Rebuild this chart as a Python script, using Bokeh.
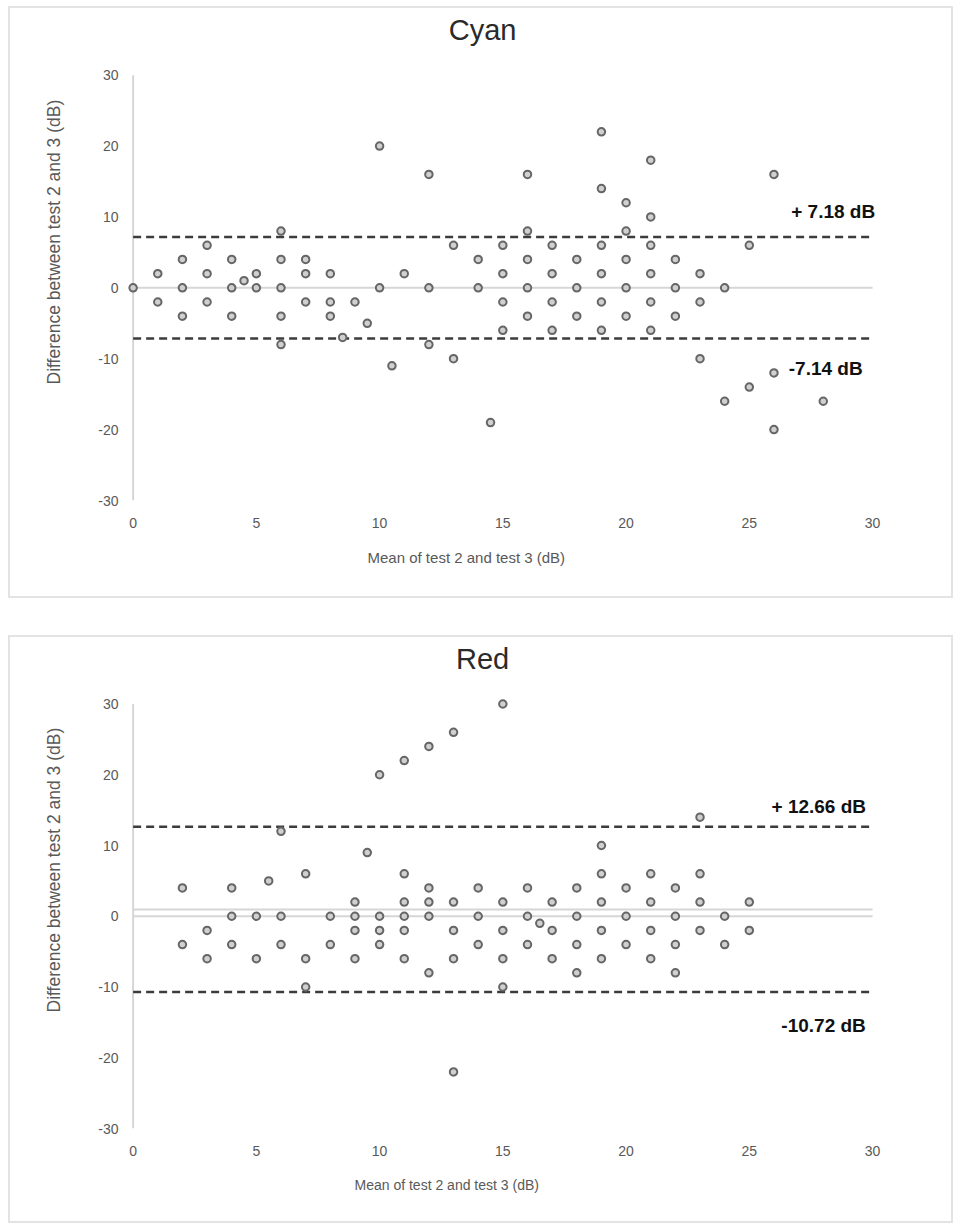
from bokeh.plotting import figure
from bokeh.models import Range1d, Label, FixedTicker, Title
from bokeh.layouts import column
from bokeh.embed import file_html
from bokeh.resources import INLINE

# ---------------- data ----------------
cyan_mean = [0, 1, 1, 2, 2, 2, 3, 3, 3, 4, 4, 4, 4.5, 5, 5,
             6, 6, 6, 6, 6, 7, 7, 7, 8, 8, 8, 8.5, 9, 9.5, 10, 10,
             10.5, 11, 12, 12, 12, 13, 13, 14, 14, 14.5,
             15, 15, 15, 15, 16, 16, 16, 16, 16, 17, 17, 17, 17,
             18, 18, 18, 19, 19, 19, 19, 19, 19, 20, 20, 20, 20, 20,
             21, 21, 21, 21, 21, 21, 22, 22, 22, 23, 23, 23, 24, 24,
             25, 25, 26, 26, 26, 28]
cyan_diff = [0, 2, -2, 4, 0, -4, 6, 2, -2, 4, 0, -4, 1, 2, 0,
             8, 4, 0, -4, -8, 4, 2, -2, 2, -2, -4, -7, -2, -5, 20, 0,
             -11, 2, 16, 0, -8, 6, -10, 4, 0, -19,
             6, 2, -2, -6, 16, 8, 4, 0, -4, 6, 2, -2, -6,
             4, 0, -4, 22, 14, 6, 2, -2, -6, 12, 8, 4, 0, -4,
             18, 10, 6, 2, -2, -6, 4, 0, -4, 2, -2, -10, 0, -16,
             6, -14, 16, -12, -20, -16]
cyan_upper = 7.18
cyan_lower = -7.14

red_mean = [2, 2, 3, 3, 4, 4, 4, 5, 5, 5.5, 6, 6, 6, 7, 7, 7, 8, 8,
            9, 9, 9, 9, 9.5, 10, 10, 10, 10, 11, 11, 11, 11, 11, 11,
            12, 12, 12, 12, 12, 13, 13, 13, 13, 13, 14, 14, 14,
            15, 15, 15, 15, 15, 16, 16, 16, 16.5, 17, 17, 17,
            18, 18, 18, 18, 19, 19, 19, 19, 19, 20, 20, 20,
            21, 21, 21, 21, 22, 22, 22, 22, 23, 23, 23, 23, 24, 24, 25, 25]
red_diff = [4, -4, -2, -6, 4, 0, -4, 0, -6, 5, 12, 0, -4, 6, -6, -10, 0, -4,
            2, 0, -2, -6, 9, 20, 0, -2, -4, 22, 6, 2, 0, -2, -6,
            24, 4, 2, 0, -8, 26, 2, -2, -6, -22, 4, 0, -4,
            30, 2, -2, -6, -10, 4, 0, -4, -1, 2, -2, -6,
            4, 0, -4, -8, 10, 6, 2, -2, -6, 4, 0, -4,
            6, 2, -2, -6, 4, 0, -4, -8, 14, 6, 2, -2, 0, -4, 2, -2]
red_upper = 12.66
red_lower = -10.72

x_ticks = [0, 5, 10, 15, 20, 25, 30]
y_ticks = [-30, -20, -10, 0, 10, 20, 30]
y_tick_labels = {v: str(v) for v in y_ticks}

x_title = "Mean of test 2 and test 3 (dB)"
y_title = "Difference between test 2 and 3 (dB)"

FONT = "Liberation Sans"
TICK_COLOR = "#595959"
GRID_GRAY = "#d6d6d6"


def make_panel(name, xs, ys, upper, lower, height, bottom,
               title_pos, xt_off, yt_off, xt_size, up_pos, lo_pos, mean_line):
    p = figure(width=945, height=height, output_backend="svg",
               toolbar_location=None,
               x_range=Range1d(-0.35, 33), y_range=Range1d(-30, 39.4),
               min_border_left=113, min_border_right=9,
               min_border_top=0, min_border_bottom=bottom,
               background_fill_color="white", border_fill_color="white",
               title=None)
    p.styles = {"border": "2px solid #e3e3e3", "box-sizing": "border-box"}
    p.outline_line_color = None
    p.grid.visible = False

    # axes
    p.xaxis.ticker = FixedTicker(ticks=x_ticks)
    p.yaxis.ticker = FixedTicker(ticks=y_ticks)
    p.yaxis.major_label_overrides = y_tick_labels
    for ax in (p.xaxis[0], p.yaxis[0]):
        ax.major_tick_line_color = None
        ax.minor_tick_line_color = None
        ax.axis_line_color = None
        ax.major_label_text_font = FONT
        ax.major_label_text_font_size = "14px"
        ax.major_label_text_color = TICK_COLOR
    p.xaxis.major_label_standoff = 11
    p.yaxis.major_label_standoff = 0

    x0, x1 = x_ticks[0], x_ticks[-1]
    y0, y1 = y_ticks[0], y_ticks[-1]
    # vertical axis line at x = 0
    p.line([x0, x0], [y0, y1], line_color=GRID_GRAY, line_width=2)
    # zero line / bias line
    p.line([x0, x1], [0, 0], line_color=GRID_GRAY, line_width=2)
    if mean_line:
        bias = (upper + lower) / 2
        p.line([x0, x1], [bias, bias], line_color=GRID_GRAY, line_width=2)

    # limits of agreement
    for v in (upper, lower):
        p.line([x0, x1], [v, v], line_color="#3c3c3c", line_width=2.5,
               line_dash="8 5")

    p.scatter(xs, ys, size=7.5, fill_color="#d0d0d0", line_color="#666666",
              line_width=2)

    # chart title
    p.add_layout(Label(x=title_pos[0], y=title_pos[1], text=name,
                       text_font=FONT, text_font_size="29px",
                       text_color="#2a2a2a", text_align="center",
                       text_baseline="middle"))
    # axis titles
    p.add_layout(Title(text=x_title, align="left", offset=xt_off,
                       text_font=FONT, text_font_size=xt_size,
                       text_font_style="normal", text_color=TICK_COLOR,
                       standoff=32), "below")
    p.add_layout(Title(text=y_title, align="left", offset=yt_off,
                       text_font=FONT, text_font_size="17.5px",
                       text_font_style="normal", text_color=TICK_COLOR,
                       standoff=63), "left")

    up_txt = "+ %.2f dB" % upper
    lo_txt = "%.2f dB" % lower
    for pos, txt in ((up_pos, up_txt), (lo_pos, lo_txt)):
        p.add_layout(Label(x=pos[0], y=pos[1], text=txt, text_font=FONT,
                           text_font_size="19px", text_font_style="bold",
                           text_color="#111111", text_align="left",
                           text_baseline="middle"))
    return p


p1 = make_panel("Cyan", cyan_mean, cyan_diff, cyan_upper, cyan_lower,
                height=592, bottom=100, title_pos=(14.18, 36.3),
                xt_off=243, yt_off=116, xt_size="15px",
                up_pos=(26.7, 10.8), lo_pos=(26.6, -11.4), mean_line=False)
p2 = make_panel("Red", red_mean, red_diff, red_upper, red_lower,
                height=588, bottom=97, title_pos=(14.18, 36.4),
                xt_off=230, yt_off=116, xt_size="14px",
                up_pos=(25.9, 15.5), lo_pos=(26.3, -15.4), mean_line=True)

layout = column(p1, p2, spacing=37)
layout.margin = (6, 0, 0, 8)
open("out.html", "w").write(file_html(layout, INLINE))
